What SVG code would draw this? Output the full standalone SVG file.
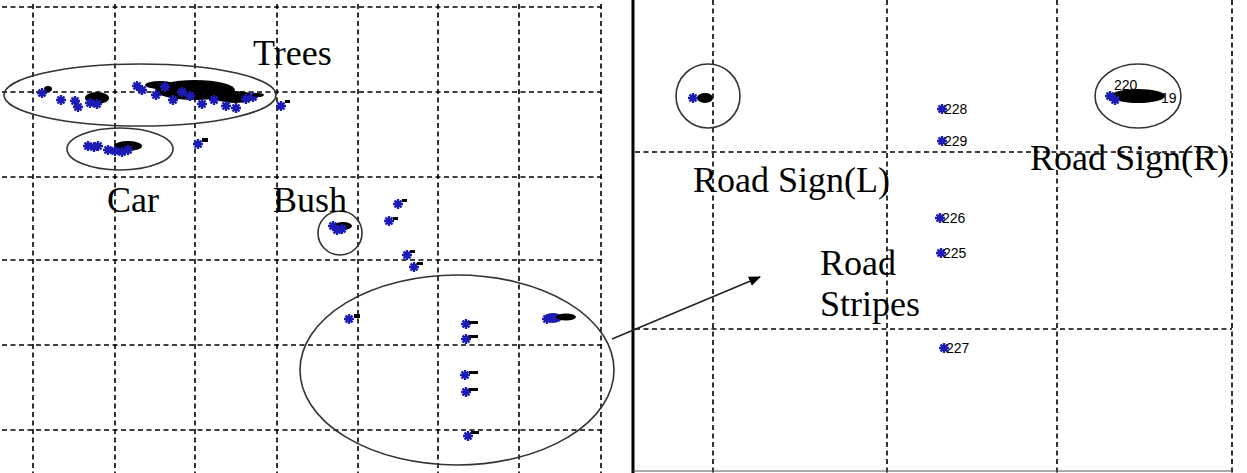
<svg xmlns="http://www.w3.org/2000/svg" xmlns:xlink="http://www.w3.org/1999/xlink" width="1247" height="473" viewBox="0 0 1247 473">
<style>
.g{stroke:#000;stroke-width:1.6;stroke-dasharray:5 3.5;fill:none}
.e{fill:none;stroke:#333;stroke-width:1.6}
.lb{font-family:"Liberation Serif","Times New Roman",serif;font-size:36px;fill:#000}
.n{font-family:"Liberation Sans",Arial,sans-serif;font-size:14px;fill:#000}
.b{fill:#000}
.bl{fill:#1c1cb4}
</style>
<defs>
<g id="st"><path d="M-5,0H5M0,-5V5M-3.5,-3.5L3.5,3.5M-3.5,3.5L3.5,-3.5" stroke="#1c1cb4" stroke-width="2.4"/></g>
<marker id="ah" markerWidth="12" markerHeight="10" refX="11" refY="5" orient="auto" markerUnits="userSpaceOnUse"><path d="M0,0L12,5L0,10z" fill="#000"/></marker>
</defs>
<rect width="1247" height="473" fill="#fff"/>
<g id="grid-left">
<path class="g" d="M2,7H602M2,92H602M2,177H602M2,260H602M2,345H602M2,430H602"/>
<path class="g" d="M33,4V473M115,4V473M195,4V473M277,4V473M358,4V473M438,4V473M519,4V473M601,4V473"/>
</g>
<g id="grid-right">
<path class="g" d="M635,152H1232M635,329H1232"/>
<path class="g" d="M713,0V473M887,0V473M1057,0V473M1232,0V473"/>
<path d="M633,0V473" stroke="#000" stroke-width="3"/>
<path d="M633,471H1232" stroke="#555" stroke-width="1.2"/>
</g>
<g id="trees">
<ellipse class="e" cx="140" cy="95" rx="136" ry="31"/>
<ellipse class="b" cx="48" cy="89" rx="4" ry="3"/>
<use href="#st" x="42" y="93"/>
<ellipse class="b" cx="97" cy="98" rx="12" ry="6"/>
<use href="#st" x="61" y="100"/><use href="#st" x="75" y="101"/><use href="#st" x="78" y="107"/><use href="#st" x="90" y="103"/><use href="#st" x="97" y="104"/>
<ellipse class="b" cx="195" cy="90" rx="40" ry="10"/>
<ellipse class="b" cx="235" cy="97" rx="20" ry="6"/>
<ellipse class="b" cx="160" cy="85" rx="15" ry="4"/>
<use href="#st" x="137" y="86"/><use href="#st" x="142" y="90"/><use href="#st" x="156" y="95"/><use href="#st" x="165" y="87"/><use href="#st" x="173" y="100"/><use href="#st" x="182" y="92"/><use href="#st" x="190" y="96"/><use href="#st" x="202" y="104"/><use href="#st" x="214" y="100"/><use href="#st" x="226" y="106"/><use href="#st" x="236" y="108"/><use href="#st" x="246" y="99"/><use href="#st" x="253" y="97"/>
<ellipse class="b" cx="258" cy="95" rx="6" ry="2"/>
<use href="#st" x="281" y="106"/><rect class="b" x="285" y="100" width="5" height="3"/>
<use href="#st" x="198" y="144"/><rect class="b" x="202" y="138" width="6" height="4"/>
<text class="lb" x="253" y="65">Trees</text>
</g>
<g id="car">
<ellipse class="e" cx="120" cy="149" rx="53" ry="21"/>
<ellipse class="b" cx="128" cy="146" rx="14" ry="5"/>
<use href="#st" x="88" y="146"/><use href="#st" x="94" y="147"/><use href="#st" x="98" y="146"/><use href="#st" x="108" y="150"/><use href="#st" x="115" y="151"/><use href="#st" x="122" y="152"/><use href="#st" x="128" y="150"/>
<text class="lb" x="107" y="212">Car</text>
</g>
<g id="bush">
<circle class="e" cx="340" cy="233" r="22"/>
<ellipse class="b" cx="343" cy="226" rx="9" ry="4"/>
<use href="#st" x="333" y="226"/><use href="#st" x="337" y="230"/><use href="#st" x="342" y="229"/>
<text class="lb" x="273" y="212">Bush</text>
</g>
<g id="scatter">
<use href="#st" x="398" y="204"/><rect class="b" x="402" y="199" width="5" height="3"/>
<use href="#st" x="389" y="221"/><rect class="b" x="393" y="217" width="5" height="3"/>
<use href="#st" x="407" y="255"/><rect class="b" x="410" y="250" width="5" height="3"/>
<use href="#st" x="414" y="267"/><rect class="b" x="417" y="262" width="6" height="3"/>
</g>
<g id="road-stripes-left">
<ellipse class="e" cx="457" cy="370" rx="157" ry="95"/>
<use href="#st" x="349" y="319"/><rect class="b" x="354" y="314" width="6" height="4"/>
<use href="#st" x="466" y="324"/><rect class="b" x="469" y="321" width="9" height="3"/>
<use href="#st" x="466" y="339"/><rect class="b" x="469" y="335" width="9" height="3"/>
<use href="#st" x="465" y="375"/><rect class="b" x="469" y="371" width="9" height="3"/>
<use href="#st" x="466" y="392"/><rect class="b" x="469" y="388" width="9" height="3"/>
<use href="#st" x="468" y="436"/><rect class="b" x="471" y="431" width="8" height="3"/>
<ellipse class="bl" cx="553" cy="318" rx="9" ry="5"/>
<ellipse class="b" cx="566" cy="317" rx="10" ry="3.5"/>
<use href="#st" x="547" y="319"/>
</g>
<g id="connectors">
<path d="M612,339L760,277" stroke="#222" stroke-width="1.6" marker-end="url(#ah)"/>
</g>
<g id="road-sign-l">
<circle class="e" cx="708" cy="96" r="32"/>
<ellipse class="b" cx="705" cy="98" rx="8" ry="5"/>
<use href="#st" x="693" y="98"/>
<text class="lb" x="693" y="192">Road Sign(L)</text>
</g>
<g id="road-sign-r">
<ellipse class="e" cx="1138" cy="96" rx="43" ry="32"/>
<text class="n" x="1114" y="90">220</text>
<ellipse class="b" cx="1138" cy="96" rx="27" ry="7"/>
<text class="n" x="1161" y="103">19</text>
<use href="#st" x="1110" y="96"/><use href="#st" x="1115" y="100"/>
<text class="lb" x="1030" y="170">Road Sign(R)</text>
</g>
<g id="road-stripes-right">
<use href="#st" x="942" y="109"/><text class="n" x="944" y="114">228</text>
<use href="#st" x="942" y="141"/><text class="n" x="944" y="146">229</text>
<use href="#st" x="940" y="218"/><text class="n" x="942" y="223">226</text>
<use href="#st" x="941" y="253"/><text class="n" x="943" y="258">225</text>
<use href="#st" x="944" y="348"/><text class="n" x="946" y="353">227</text>
<text class="lb" x="820" y="275">Road</text>
<text class="lb" x="820" y="316">Stripes</text>
</g>
</svg>
